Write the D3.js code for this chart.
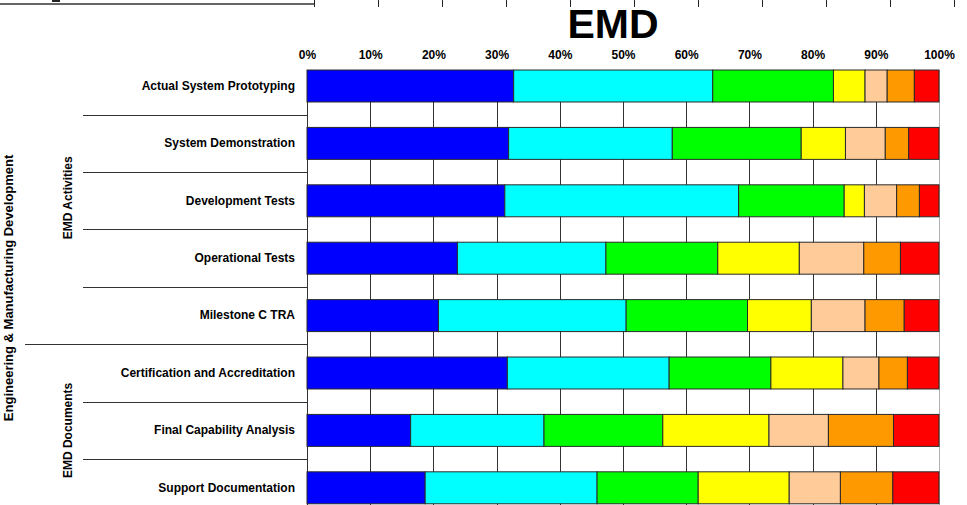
<!DOCTYPE html>
<html>
<head>
<meta charset="utf-8">
<script src="https://cdn.jsdelivr.net/npm/d3@7"></script>
<style>
  html, body { margin: 0; padding: 0; background: #fff; }
  svg { display: block; }
  text { font-family: "Liberation Sans", Arial, sans-serif; font-weight: bold; fill: #000; }
</style>
</head>
<body>
<svg id="chart" width="967" height="505"></svg>
<script>
// Categories, top to bottom
const categories = [
  "Actual System Prototyping",
  "System Demonstration",
  "Development Tests",
  "Operational Tests",
  "Milestone C TRA",
  "Certification and Accreditation",
  "Final Capability Analysis",
  "Support Documentation"
];

// Category groups (first index, last index, label)
const groupNames = ["EMD Activities", "EMD Documents"];
const groupStart = [0, 5];
const groupEnd = [4, 7];
const phaseName = "Engineering & Manufacturing Development";

// Percentage shares per series, one value per category
const blueShare   = [32.7, 31.9, 31.3, 23.8, 20.8, 31.7, 16.4, 18.7];
const cyanShare   = [31.5, 25.9, 37.0, 23.5, 29.7, 25.6, 21.1, 27.2];
const greenShare  = [19.1, 20.4, 16.7, 17.7, 19.2, 16.1, 18.8, 16.0];
const yellowShare = [ 5.0,  7.0,  3.2, 12.9, 10.1, 11.4, 16.8, 14.4];
const peachShare  = [ 3.5,  6.3,  5.1, 10.2,  8.5,  5.7,  9.4,  8.1];
const orangeShare = [ 4.3,  3.7,  3.6,  5.8,  6.2,  4.5, 10.3,  8.3];
const redShare    = [ 3.9,  4.8,  3.1,  6.1,  5.5,  5.0,  7.2,  7.3];

const seriesKeys = ["blue", "cyan", "green", "yellow", "peach", "orange", "red"];
const seriesColors = ["#0000FF", "#00FFFF", "#00FF00", "#FFFF00", "#FFCC99", "#FF9900", "#FF0000"];

// Axis tick values (percent)
const tickValues = [0, 10, 20, 30, 40, 50, 60, 70, 80, 90, 100];

const title = "EMD";

// Build rows for the stack layout
const seriesArrays = [blueShare, cyanShare, greenShare, yellowShare, peachShare, orangeShare, redShare];
const table = categories.map((c, i) => {
  const row = { category: c };
  seriesKeys.forEach((k, j) => { row[k] = seriesArrays[j][i]; });
  return row;
});
const stacked = d3.stack().keys(seriesKeys)(table);

const svg = d3.select("#chart");

const x = d3.scaleLinear().domain([0, 100]).range([307, 939]);
const y = d3.scaleBand().domain(categories)
  .range([57.3, 516.5])
  .paddingInner(0.443)
  .paddingOuter(0.2215);
const color = d3.scaleOrdinal().domain(seriesKeys).range(seriesColors);

const plotTop = y(categories[0]);
const plotBottom = 505;
const gap = y.step() - y.bandwidth();

// Bottom edge of the neighbouring chart above
const prevAxis = d3.scaleLinear().domain([0, 100]).range([314, 954]);
const prev = svg.append("g");
prev.append("line")
  .attr("x1", 0).attr("x2", prevAxis(0))
  .attr("y1", 4).attr("y2", 4)
  .attr("stroke", "#333").attr("stroke-width", 1.5);
prev.selectAll("line.ptick").data(tickValues).join("line")
  .attr("class", "ptick")
  .attr("x1", d => Math.round(prevAxis(d)) + 0.5)
  .attr("x2", d => Math.round(prevAxis(d)) + 0.5)
  .attr("y1", 0).attr("y2", 7)
  .attr("stroke", "#222").attr("stroke-width", 1);
prev.append("rect")
  .attr("x", 52).attr("y", 0).attr("width", 8).attr("height", 2)
  .attr("fill", "#222");

// Vertical gridlines
svg.append("g").selectAll("line").data(tickValues).join("line")
  .attr("x1", d => Math.round(x(d)) + 0.5)
  .attr("x2", d => Math.round(x(d)) + 0.5)
  .attr("y1", plotTop).attr("y2", plotBottom)
  .attr("stroke", d => d === 100 ? "#b0b0b0" : "#333")
  .attr("stroke-width", 1);

// Category axis line and row separators
svg.append("line")
  .attr("x1", Math.round(x(0)) + 0.5).attr("x2", Math.round(x(0)) + 0.5)
  .attr("y1", plotTop).attr("y2", plotBottom)
  .attr("stroke", "#333");

const separators = categories.slice(1);
svg.append("g").selectAll("line").data(separators).join("line")
  .attr("x1", d => groupStart.includes(categories.indexOf(d)) ? 25 : 83)
  .attr("x2", x(0))
  .attr("y1", d => Math.round(y(d) - gap / 2) + 0.5)
  .attr("y2", d => Math.round(y(d) - gap / 2) + 0.5)
  .attr("stroke", "#333").attr("stroke-width", 1);

// Stacked bars
svg.append("g").selectAll("g").data(stacked).join("g")
  .attr("fill", d => color(d.key))
  .selectAll("rect").data(d => d).join("rect")
  .attr("x", d => x(d[0]))
  .attr("width", d => x(d[1]) - x(d[0]))
  .attr("y", d => y(d.data.category))
  .attr("height", y.bandwidth())
  .attr("stroke", "#2a2a2a")
  .attr("stroke-width", 1);

// Percentage axis on top
const xAxis = d3.axisTop(x)
  .tickValues(tickValues)
  .tickFormat(d => d + "%")
  .tickSize(0)
  .tickPadding(0);
const ax = svg.append("g").attr("transform", "translate(0,59)").call(xAxis);
ax.select(".domain").remove();
ax.selectAll("text").style("font-size", "12px").style("font-family", "'Liberation Sans', Arial, sans-serif").style("font-weight", "bold").attr("fill", "#000").attr("dy", 0);

// Category labels
svg.append("g").selectAll("text").data(categories).join("text")
  .attr("x", 295)
  .attr("y", d => y(d) + y.bandwidth() / 2)
  .attr("dy", "0.32em")
  .attr("text-anchor", "end")
  .style("font-size", "12px")
  .text(d => d);

// Group labels (rotated), centred on their rows
svg.append("g").selectAll("text").data(groupNames).join("text")
  .attr("transform", (d, i) => {
    const top = y(categories[groupStart[i]]) - gap / 2;
    const bottom = y(categories[groupEnd[i]]) + y.bandwidth() + gap / 2;
    const mid = (top + bottom) / 2 - (i === 0 ? 3 : 0);
    return `translate(71.5,${mid}) rotate(-90)`;
  })
  .attr("text-anchor", "middle")
  .style("font-size", "12px")
  .text(d => d);

// Phase label (rotated)
{
  const top = y(categories[0]) - gap / 2;
  const bottom = y(categories[categories.length - 1]) + y.bandwidth() + gap / 2;
  svg.append("text")
    .attr("transform", `translate(12.5,${(top + bottom) / 2 + 1}) rotate(-90)`)
    .attr("text-anchor", "middle")
    .style("font-size", "13px")
    .text(phaseName);
}

// Title
svg.append("text")
  .attr("x", 613).attr("y", 37.5)
  .attr("text-anchor", "middle")
  .style("font-size", "41px")
  .text(title);
</script>
</body>
</html>
